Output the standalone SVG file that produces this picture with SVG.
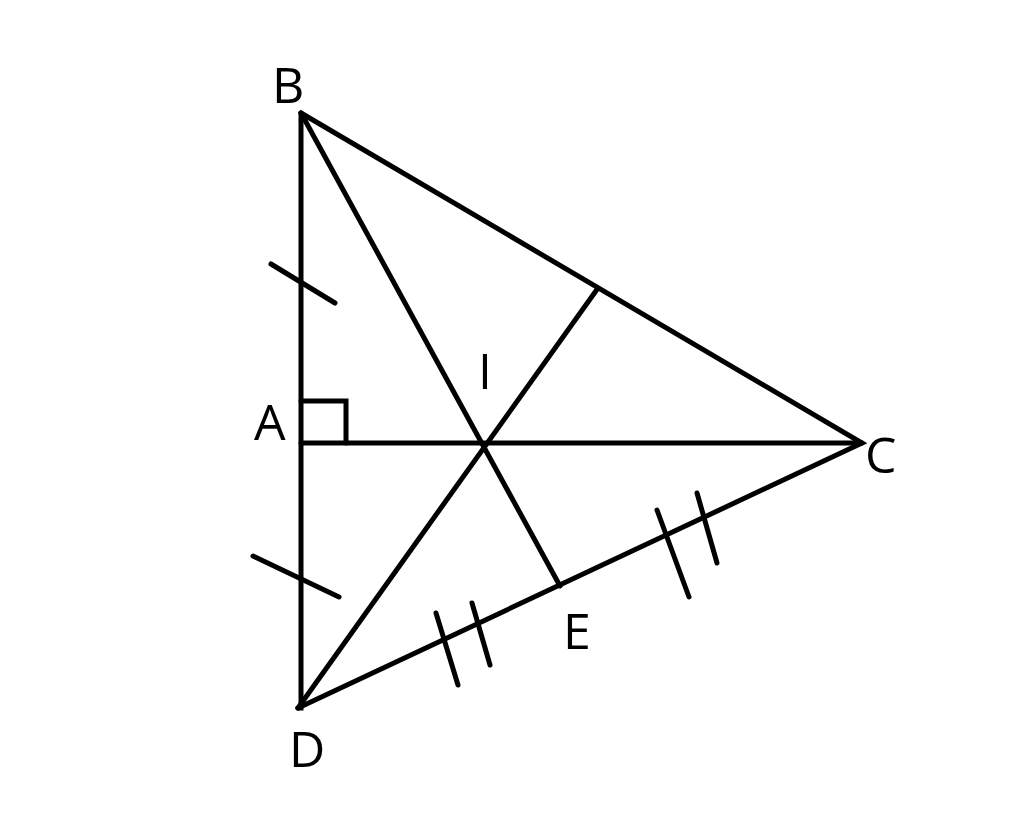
<svg xmlns="http://www.w3.org/2000/svg" width="1024" height="838" viewBox="0 0 1024 838">
<style>
.l{stroke:#000;stroke-width:5;fill:none;stroke-linecap:round;stroke-linejoin:miter}
.t{font-family:"Open Sans","Liberation Sans",sans-serif;font-size:50px;fill:#000}
</style>
<rect width="1024" height="838" fill="#fff"/>
<g id="connectors">
<path class="l" d="M301,113 L301,708 L298,708"/>
<path class="l" d="M301,113 L862,443 L298,708"/>
<line class="l" x1="301" y1="443" x2="862" y2="443"/>
<line class="l" x1="301" y1="113" x2="560" y2="586"/>
<line class="l" x1="298" y1="708" x2="598" y2="288"/>
<path class="l" d="M301,401 L346,401 L346,443"/>
<line class="l" x1="271" y1="264" x2="335" y2="303"/>
<line class="l" x1="253" y1="556" x2="339" y2="597"/>
<line class="l" x1="436" y1="613" x2="458" y2="685"/>
<line class="l" x1="472" y1="603" x2="490" y2="665"/>
<line class="l" x1="657" y1="510" x2="689" y2="597"/>
<line class="l" x1="697" y1="493" x2="717" y2="563"/>
</g>
<g id="B"><text class="t" x="272" y="103">B</text></g>
<g id="A"><text class="t" x="254" y="440">A</text></g>
<g id="I"><text class="t" x="478" y="389">I</text></g>
<g id="C"><text class="t" x="865" y="473">C</text></g>
<g id="E"><text class="t" x="563" y="649">E</text></g>
<g id="D"><text class="t" x="289" y="767">D</text></g>
</svg>
